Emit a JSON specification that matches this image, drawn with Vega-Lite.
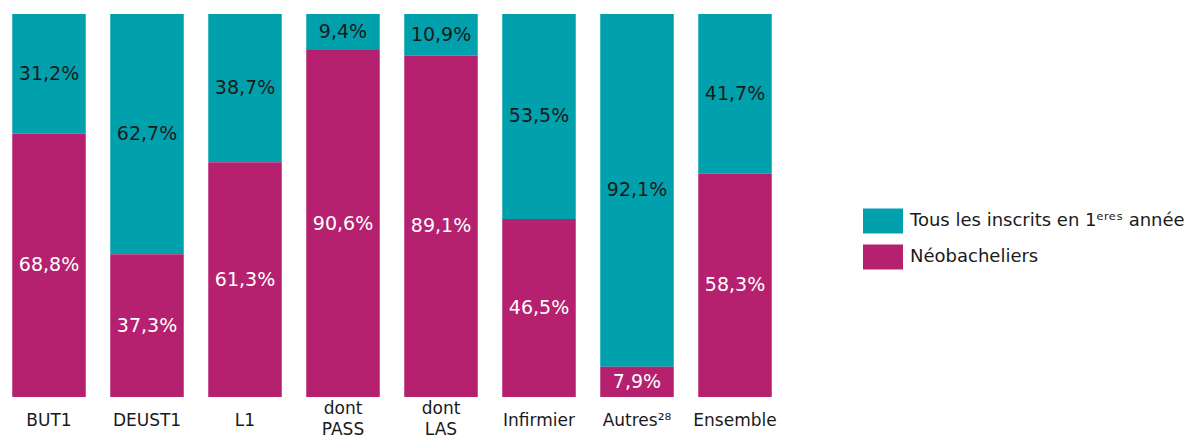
{
  "$schema": "https://vega.github.io/schema/vega-lite/v6.json",
  "width": 784,
  "height": 383,
  "autosize": {"type": "none"},
  "padding": {"left": 0, "top": 14, "right": 402, "bottom": 38},
  "background": "white",
  "config": {
    "view": {"stroke": null},
    "font": "DejaVu Sans",
    "locale": {"number": {"decimal": ",", "thousands": " ", "grouping": [3], "currency": ["", " €"]}}
  },
  "data": {
    "values": [
      {"cat": "BUT1", "serie": "Tous les inscrits en 1ᵉʳᵉˢ année", "v": 0.312},
      {"cat": "BUT1", "serie": "Néobacheliers", "v": 0.688},
      {"cat": "DEUST1", "serie": "Tous les inscrits en 1ᵉʳᵉˢ année", "v": 0.627},
      {"cat": "DEUST1", "serie": "Néobacheliers", "v": 0.373},
      {"cat": "L1", "serie": "Tous les inscrits en 1ᵉʳᵉˢ année", "v": 0.387},
      {"cat": "L1", "serie": "Néobacheliers", "v": 0.613},
      {"cat": "dont PASS", "serie": "Tous les inscrits en 1ᵉʳᵉˢ année", "v": 0.094},
      {"cat": "dont PASS", "serie": "Néobacheliers", "v": 0.906},
      {"cat": "dont LAS", "serie": "Tous les inscrits en 1ᵉʳᵉˢ année", "v": 0.109},
      {"cat": "dont LAS", "serie": "Néobacheliers", "v": 0.891},
      {"cat": "Infirmier", "serie": "Tous les inscrits en 1ᵉʳᵉˢ année", "v": 0.535},
      {"cat": "Infirmier", "serie": "Néobacheliers", "v": 0.465},
      {"cat": "Autres²⁸", "serie": "Tous les inscrits en 1ᵉʳᵉˢ année", "v": 0.921},
      {"cat": "Autres²⁸", "serie": "Néobacheliers", "v": 0.079},
      {"cat": "Ensemble", "serie": "Tous les inscrits en 1ᵉʳᵉˢ année", "v": 0.417},
      {"cat": "Ensemble", "serie": "Néobacheliers", "v": 0.583}
    ]
  },
  "encoding": {
    "x": {
      "field": "cat",
      "type": "nominal",
      "sort": null,
      "scale": {"paddingInner": 0.25, "paddingOuter": 0.125},
      "axis": {
        "title": null,
        "labelAngle": 0,
        "domain": false,
        "ticks": false,
        "labelFontSize": 17,
        "labelColor": "#1a1a1a",
        "labelBaseline": "middle",
        "labelPadding": {"condition": {"test": "indexof(datum.value, 'dont ') == 0", "value": 11}, "value": 23},
        "labelLineHeight": 21,
        "labelExpr": "indexof(datum.value, 'dont ') == 0 ? split(datum.value, ' ') : datum.value"
      }
    },
    "y": {
      "field": "v",
      "type": "quantitative",
      "stack": "zero",
      "scale": {"domain": [0, 1], "nice": false, "zero": true},
      "axis": null
    },
    "order": {"field": "serie", "sort": "ascending"}
  },
  "layer": [
    {
      "mark": {"type": "bar"},
      "encoding": {
        "color": {
          "field": "serie",
          "type": "nominal",
          "scale": {
            "domain": ["Tous les inscrits en 1ᵉʳᵉˢ année", "Néobacheliers"],
            "range": ["#00A1AD", "#B5216F"]
          },
          "legend": {
            "title": null,
            "orient": "none",
            "legendX": 863,
            "legendY": 187,
            "symbolType": "M-1,-0.625H1V0.625H-1Z",
            "symbolSize": 1600,
            "symbolStrokeWidth": 0,
            "symbolOpacity": 1,
            "labelFontSize": 18,
            "labelColor": "#1a1a1a",
            "labelOffset": 7,
            "labelLimit": 0,
            "rowPadding": 3,
            "padding": 0
          }
        }
      }
    },
    {
      "mark": {"type": "text", "fontSize": 19, "baseline": "middle", "align": "center"},
      "encoding": {
        "y": {
          "field": "v",
          "type": "quantitative",
          "stack": "zero",
          "bandPosition": 0.5
        },
        "text": {"field": "v", "type": "quantitative", "format": ".1%"},
        "color": {
          "condition": {"test": "datum.serie == 'Néobacheliers'", "value": "white"},
          "value": "#1a1a1a"
        }
      }
    }
  ]
}
